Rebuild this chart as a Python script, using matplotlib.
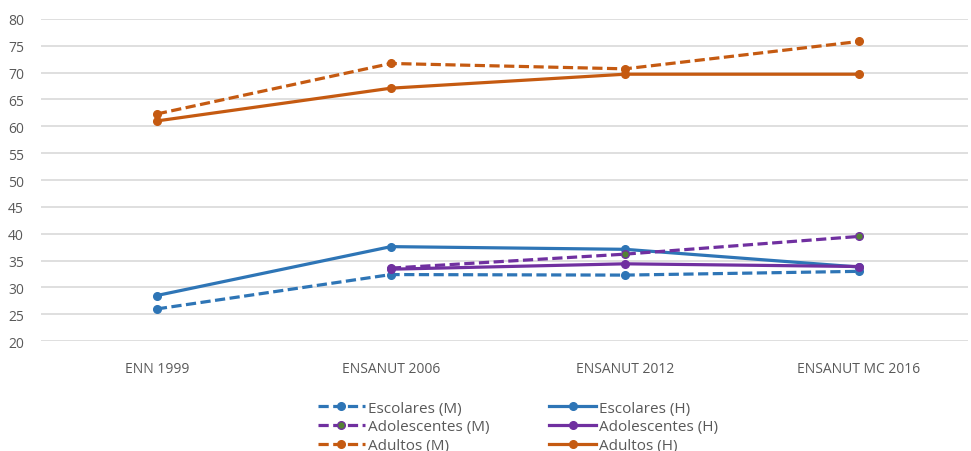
import numpy as np
import matplotlib
matplotlib.use("Agg")
import matplotlib.pyplot as plt

plt.rcParams["font.family"] = ["Open Sans", "DejaVu Sans"]

surveys = ["ENN 1999", "ENSANUT 2006", "ENSANUT 2012", "ENSANUT MC 2016"]

escolares_m = [26.0, 32.4, 32.3, 33.0]
escolares_h = [28.5, 37.6, 37.1, 33.8]
adolescentes_m = [np.nan, 33.6, 36.2, 39.5]
adolescentes_h = [np.nan, 33.4, 34.4, 33.9]
adultos_m = [62.3, 71.7, 70.7, 75.8]
adultos_h = [61.0, 67.1, 69.7, 69.7]

BLUE = "#2E75B6"
PURPLE = "#7030A0"
ORANGE = "#C55A11"
GREEN = "#548235"

# (label, values, colour, style, marker fill)
series = [
    ("Escolares (M)", escolares_m, BLUE, "--", BLUE),
    ("Escolares (H)", escolares_h, BLUE, "-", BLUE),
    ("Adolescentes (M)", adolescentes_m, PURPLE, "--", GREEN),
    ("Adolescentes (H)", adolescentes_h, PURPLE, "-", PURPLE),
    ("Adultos (M)", adultos_m, ORANGE, "--", ORANGE),
    ("Adultos (H)", adultos_h, ORANGE, "-", ORANGE),
]

fig = plt.figure(figsize=(9.71, 4.52), dpi=100)
ax = fig.add_axes([0.042, 0.243, 0.955, 0.713])

x = np.arange(len(surveys))
lines = {}
for label, vals, color, ls, face in series:
    line, = ax.plot(x, vals, color=color, linestyle=ls, linewidth=2.3,
                    marker="o", markersize=5.5, markerfacecolor=face,
                    markeredgecolor=color, markeredgewidth=1, label=label)
    if ls == "--":
        line.set_dashes((3.2, 1.4))
    lines[label] = line

ax.set_xlim(-0.496, 3.466)
ax.set_ylim(20, 80)
ax.set_yticks(range(20, 81, 5))
ax.set_xticks(x)
ax.set_xticklabels(surveys)
ax.tick_params(axis="both", length=0, labelsize=10, colors="#595959")
ax.tick_params(axis="x", pad=14)
ax.tick_params(axis="y", pad=12)
ax.grid(axis="y", color="#d9d9d9", linewidth=1.2)
ax.set_axisbelow(True)
for s in ax.spines.values():
    s.set_visible(False)

# legend fills column by column: women on the left, men on the right
order = ["Escolares (M)", "Adolescentes (M)", "Adultos (M)",
         "Escolares (H)", "Adolescentes (H)", "Adultos (H)"]
leg = fig.legend([lines[k] for k in order], order, ncol=2, loc="upper left",
                 bbox_to_anchor=(0.327, 0.111), frameon=False,
                 fontsize=11, handlelength=3.1, handletextpad=0.2,
                 columnspacing=3.9, labelspacing=0.24, borderaxespad=0,
                 borderpad=0)
for t in leg.get_texts():
    t.set_color("#595959")

fig.savefig("out.png", dpi=100)
